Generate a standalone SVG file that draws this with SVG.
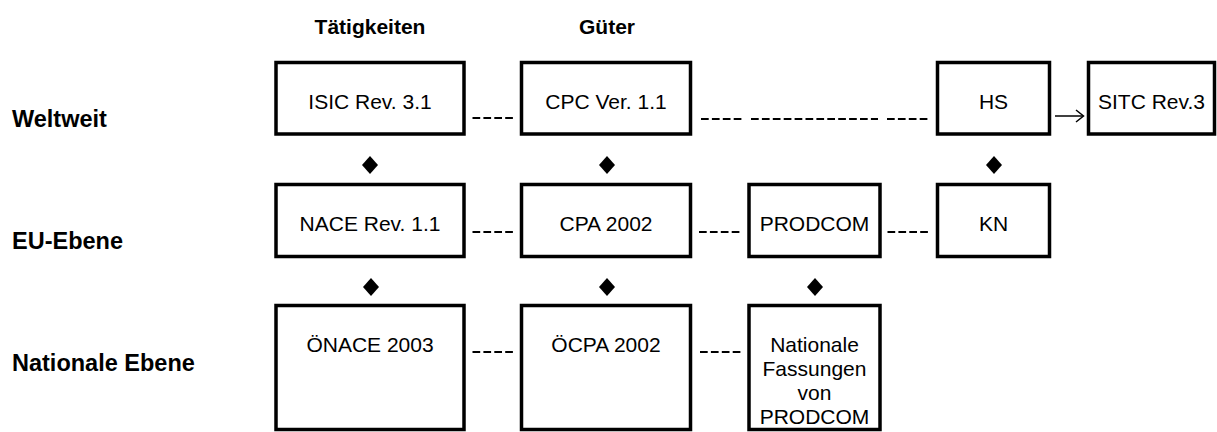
<svg xmlns="http://www.w3.org/2000/svg" width="1217" height="432" viewBox="0 0 1217 432">
<style>
.box{fill:#fff;stroke:#000;stroke-width:3.5}
.t{font-family:"Liberation Sans",Arial,sans-serif;font-size:21px;fill:#000;text-anchor:middle}
.h{font-family:"Liberation Sans",Arial,sans-serif;font-size:21px;font-weight:bold;fill:#000}
.lv{font-family:"Liberation Sans",Arial,sans-serif;font-size:23.5px;font-weight:bold;fill:#000}
.d{stroke:#000;stroke-width:2.2;stroke-dasharray:7.7 3.2;fill:none}
.dia{fill:#000}
</style>
<rect width="1217" height="432" fill="#fff"/>
<g id="headers">
<text class="h" x="370" y="34" text-anchor="middle">Tätigkeiten</text>
<text class="h" x="607" y="34" text-anchor="middle">Güter</text>
</g>
<g id="levels">
<text class="lv" x="12" y="127">Weltweit</text>
<text class="lv" x="12" y="249">EU-Ebene</text>
<text class="lv" x="12" y="371">Nationale Ebene</text>
</g>
<g id="connectors">
<line class="d" x1="472.5" y1="118" x2="513.5" y2="118"/>
<line class="d" x1="701" y1="119" x2="742" y2="119"/>
<line class="d" x1="751" y1="119" x2="878" y2="119"/>
<line class="d" x1="887" y1="119" x2="928" y2="119"/>
<line x1="1055" y1="116" x2="1083" y2="116" stroke="#000" stroke-width="1.5"/>
<polyline points="1076,110 1083.5,116 1076,122" fill="none" stroke="#000" stroke-width="1.5"/>
<line class="d" x1="472.5" y1="232" x2="513.5" y2="232"/>
<line class="d" x1="699" y1="232" x2="740" y2="232"/>
<line class="d" x1="887.5" y1="232" x2="928.5" y2="232"/>
<line class="d" x1="472.5" y1="352" x2="513.5" y2="352"/>
<line class="d" x1="700" y1="352" x2="741" y2="352"/>
<polygon class="dia" points="370,156 378,165 370,174 362,165"/>
<polygon class="dia" points="607,156 615,165 607,174 599,165"/>
<polygon class="dia" points="994,156 1002,165 994,174 986,165"/>
<polygon class="dia" points="371,278 379,287 371,296 363,287"/>
<polygon class="dia" points="607,278 615,287 607,296 599,287"/>
<polygon class="dia" points="815,278 823,287 815,296 807,287"/>
</g>
<g id="isic"><rect class="box" x="276" y="62.5" width="188" height="71.5"/><text class="t" x="370" y="109">ISIC Rev. 3.1</text></g>
<g id="cpc"><rect class="box" x="521.5" y="62.5" width="169" height="71.5"/><text class="t" x="606" y="109">CPC Ver. 1.1</text></g>
<g id="hs"><rect class="box" x="937.5" y="62.5" width="112" height="71.5"/><text class="t" x="993.5" y="109">HS</text></g>
<g id="sitc"><rect class="box" x="1088.5" y="62.5" width="126" height="71.5"/><text class="t" x="1151.5" y="109">SITC Rev.3</text></g>
<g id="nace"><rect class="box" x="276" y="184.5" width="188" height="72"/><text class="t" x="370" y="231">NACE Rev. 1.1</text></g>
<g id="cpa"><rect class="box" x="521.5" y="184.5" width="169" height="72"/><text class="t" x="606" y="231">CPA 2002</text></g>
<g id="prodcom"><rect class="box" x="749" y="184.5" width="131" height="72"/><text class="t" x="814.5" y="231">PRODCOM</text></g>
<g id="kn"><rect class="box" x="937.5" y="184.5" width="112" height="72"/><text class="t" x="993.5" y="231">KN</text></g>
<g id="onace"><rect class="box" x="276" y="305.5" width="188" height="124"/><text class="t" x="370" y="352">ÖNACE 2003</text></g>
<g id="ocpa"><rect class="box" x="521.5" y="305.5" width="169" height="124"/><text class="t" x="606" y="352">ÖCPA 2002</text></g>
<g id="natprodcom"><rect class="box" x="749" y="305.5" width="131" height="124"/><text class="t" x="814.5" y="352">Nationale<tspan x="814.5" y="376">Fassungen</tspan><tspan x="814.5" y="400">von</tspan><tspan x="814.5" y="424">PRODCOM</tspan></text></g>
</svg>
